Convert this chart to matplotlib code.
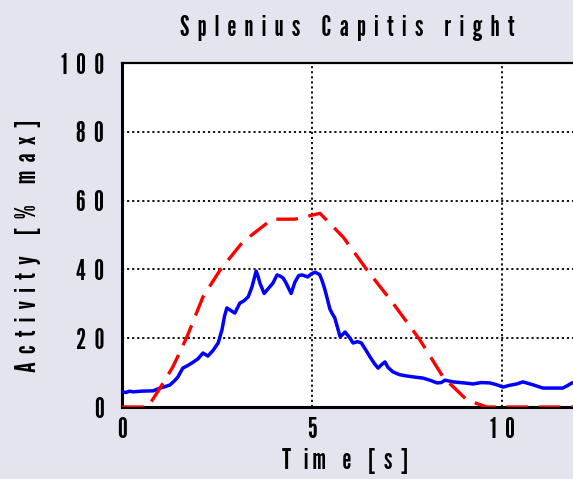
import matplotlib
matplotlib.use("Agg")
import matplotlib.pyplot as plt

# measured EMG activity (blue) and model prediction (red), % of max
emg_t = [0.0, 0.1, 0.2, 0.3, 0.5, 0.82, 1.0, 1.13, 1.26, 1.38, 1.47, 1.6, 1.72,
         1.84, 2.0, 2.13, 2.26, 2.4, 2.53, 2.63, 2.7, 2.76, 2.87, 2.97, 3.1,
         3.2, 3.32, 3.42, 3.53, 3.58, 3.63, 3.74, 3.84, 3.97, 4.08, 4.17, 4.24,
         4.32, 4.45, 4.55, 4.65, 4.74, 4.89, 4.97, 5.08, 5.2, 5.26, 5.33, 5.39,
         5.47, 5.53, 5.6, 5.74, 5.8, 5.87, 6.0, 6.08, 6.2, 6.3, 6.42, 6.53,
         6.65, 6.74, 6.83, 6.92, 7.0, 7.13, 7.3, 7.5, 7.7, 7.92, 8.1, 8.29, 8.4,
         8.5, 8.71, 9.0, 9.24, 9.45, 9.68, 9.85, 10.03, 10.2, 10.39, 10.55,
         10.8, 11.08, 11.35, 11.6, 11.72, 11.84, 12.0]
emg_v = [4.5, 4.2, 4.6, 4.4, 4.6, 4.7, 5.5, 5.9, 6.4, 7.6, 8.7, 11.3, 12.0,
         12.8, 14.0, 15.7, 14.8, 16.5, 18.6, 22.4, 26.5, 28.8, 28.0, 27.3, 30.2,
         30.8, 32.0, 34.9, 39.5, 38.0, 36.0, 33.0, 34.3, 36.0, 38.4, 38.0, 37.5,
         36.0, 33.0, 36.3, 38.2, 38.4, 37.8, 38.6, 39.2, 38.5, 36.9, 34.5, 32.0,
         28.5, 27.2, 25.9, 20.4, 21.0, 21.8, 20.0, 18.6, 19.0, 18.6, 16.5, 14.5,
         12.5, 11.3, 12.3, 13.1, 11.5, 10.2, 9.4, 9.0, 8.7, 8.4, 7.8, 7.0, 7.1,
         7.8, 7.3, 7.0, 6.7, 7.1, 7.0, 6.5, 5.8, 6.3, 6.7, 7.3, 6.5, 5.5, 5.5,
         5.5, 6.2, 7.0, 7.0]

model_t = [0.0, 0.68, 1.0, 1.34, 1.71, 2.13, 2.58, 3.18, 3.95, 4.55, 5.21, 5.82,
           6.45, 7.13, 7.84, 8.45, 9.08, 9.6, 12.0]
model_v = [0.0, 0.0, 5.5, 11.7, 20.4, 32.0, 39.8, 48.0, 54.6, 54.6, 56.3, 49.4,
           39.8, 30.2, 19.5, 8.7, 2.0, 0.0, 0.0]

x_ticks = [0, 5, 10]
y_ticks = [0, 20, 40, 60, 80, 100]


def spaced(s, gap="  "):
    # letter-spaced look of the original; word gaps get widened too
    return gap.join(s)


FONT = ["League Gothic", "Fira Sans Extra Condensed", "DejaVu Sans"]
BG = "#e4e4ee"

fig = plt.figure(figsize=(5.73, 4.79), dpi=100, facecolor=BG)
W, H = 573, 479
ax = fig.add_axes([122 / W, 72 / H, 456 / W, 344 / H])

ax.plot(emg_t, emg_v, color="#0000ff", lw=2.5, zorder=3)
ax.plot(model_t, model_v, color="#ff0000", lw=2.4, dashes=(6.5, 3.2), zorder=3)

ax.set_xlim(0, 12)
ax.set_ylim(0, 100)
ax.set_xticks(x_ticks, labels=[spaced(str(v)) for v in x_ticks])
ax.set_yticks(y_ticks, labels=[spaced(str(v)) for v in y_ticks])
ax.tick_params(axis="y", length=0, pad=13)
ax.tick_params(axis="x", length=0, pad=7)
for lab in ax.get_xticklabels() + ax.get_yticklabels():
    lab.set_fontfamily(FONT)
    lab.set_fontsize(20)

ax.grid(True, color="black", linestyle=(0, (1.2, 1.6)), lw=1.3)
for side in ("left", "bottom"):
    ax.spines[side].set_linewidth(2.2)
ax.spines["top"].set_linewidth(1.6)
ax.spines["right"].set_visible(False)

fig.text(347 / W, 1 - 28 / H, spaced("Splenius Capitis right"),
         ha="center", va="center", fontsize=20, family=FONT)
fig.text(345 / W, 1 - 461 / H, "T   i m    e    [  s  ]",
         ha="center", va="center", fontsize=20, family=FONT)
fig.text(28 / W, 1 - 246 / H, spaced("Activity [% max]"),
         rotation=90, ha="center", va="center", fontsize=20, family=FONT)

fig.savefig("out.png", dpi=100, facecolor=BG)
